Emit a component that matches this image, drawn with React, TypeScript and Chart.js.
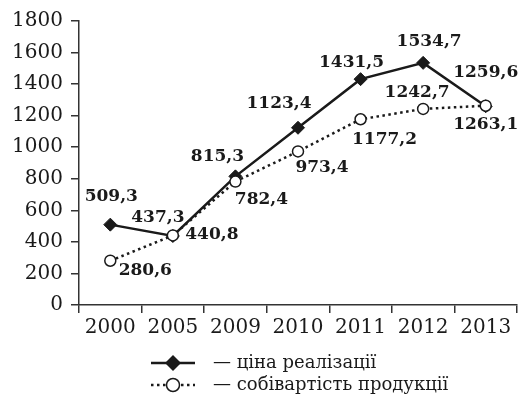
import React, { useEffect, useRef } from "react";
import { Chart, registerables } from "chart.js";

Chart.register(...registerables);

const years = ["2000", "2005", "2009", "2010", "2011", "2012", "2013"];
const priceValues = [509.3, 437.3, 815.3, 1123.4, 1431.5, 1534.7, 1259.6];
const costValues = [280.6, 440.8, 782.4, 973.4, 1177.2, 1242.7, 1263.1];
const seriesNames = ["— ціна реалізації", "— собівартість продукції"];
const yMin = 0;
const yMax = 1800;
const yStep = 200;

// label placement offsets (style, relative to point pixel)
const priceLabelOffsets = [[1, -28], [-15, -18], [-18, -20], [-19, -24], [-9, -17], [6, -21], [0, -34]];
const costLabelOffsets = [[35, 10], [39, -1], [26, 18], [24, 16], [24, 20], [-6, -16], [0, 19]];

const SERIF = "'DejaVu Serif', serif";
const INK = "#1a1a1a";

const fmt = (v: number) => v.toFixed(1).replace(".", ",");

const labelPlugin = {
  id: "valueLabels",
  afterDatasetsDraw(chart: any) {
    const ctx = chart.ctx;
    ctx.save();
    ctx.font = `bold 17px ${SERIF}`;
    ctx.fillStyle = INK;
    ctx.textAlign = "center";
    ctx.textBaseline = "middle";
    chart.data.datasets.forEach((ds: any, di: number) => {
      const meta = chart.getDatasetMeta(di);
      const offs = ds.labelOffsets as number[][];
      meta.data.forEach((pt: any, i: number) => {
        const [dx, dy] = offs[i];
        ctx.fillText(fmt(ds.data[i]), pt.x + dx, pt.y + dy);
      });
    });
    ctx.restore();
  },
};

const legendPlugin = {
  id: "customLegend",
  afterDraw(chart: any) {
    const ctx = chart.ctx;
    ctx.save();
    const x0 = 151, x1 = 195, xm = 173, tx = 213;
    const rows = [363, 385];
    // row 1: solid line + diamond
    ctx.strokeStyle = INK;
    ctx.lineWidth = 2.5;
    ctx.beginPath();
    ctx.moveTo(x0, rows[0]);
    ctx.lineTo(x1, rows[0]);
    ctx.stroke();
    ctx.fillStyle = INK;
    const r = 8;
    ctx.beginPath();
    ctx.moveTo(xm - r, rows[0]);
    ctx.lineTo(xm, rows[0] - r);
    ctx.lineTo(xm + r, rows[0]);
    ctx.lineTo(xm, rows[0] + r);
    ctx.closePath();
    ctx.fill();
    // row 2: dotted line + open circle
    ctx.setLineDash([2.5, 3.5]);
    ctx.beginPath();
    ctx.moveTo(x0, rows[1]);
    ctx.lineTo(x1, rows[1]);
    ctx.stroke();
    ctx.setLineDash([]);
    ctx.fillStyle = "#fff";
    ctx.lineWidth = 1.5;
    ctx.beginPath();
    ctx.arc(xm, rows[1], 6.5, 0, Math.PI * 2);
    ctx.fill();
    ctx.stroke();
    // texts
    ctx.fillStyle = INK;
    ctx.font = `18px ${SERIF}`;
    ctx.textAlign = "left";
    ctx.textBaseline = "middle";
    ctx.fillText(seriesNames[0], tx, rows[0]);
    ctx.fillText(seriesNames[1], tx, rows[1]);
    ctx.restore();
  },
};

export default function App() {
  const ref = useRef<HTMLCanvasElement>(null);
  useEffect(() => {
    if (!ref.current) return;
    const chart = new Chart(ref.current, {
      type: "line",
      data: {
        labels: years,
        datasets: [
          {
            label: seriesNames[0],
            data: priceValues,
            borderColor: INK,
            borderWidth: 2.5,
            pointStyle: "rectRot",
            pointRadius: 6.5,
            pointBackgroundColor: INK,
            pointBorderColor: INK,
            pointBorderWidth: 1,
            tension: 0,
            order: 1,
            labelOffsets: priceLabelOffsets,
          } as any,
          {
            label: seriesNames[1],
            data: costValues,
            borderColor: INK,
            borderWidth: 2.5,
            borderDash: [2.5, 3.5],
            pointStyle: "circle",
            pointRadius: 5.5,
            pointBackgroundColor: "#fff",
            pointBorderColor: INK,
            pointBorderWidth: 1.5,
            tension: 0,
            order: 0,
            labelOffsets: costLabelOffsets,
          } as any,
        ],
      },
      options: {
        animation: false,
        responsive: false,
        layout: { padding: { left: 0, right: 14, top: 21, bottom: 63 } },
        plugins: {
          legend: { display: false },
          tooltip: { enabled: false },
        },
        scales: {
          x: {
            type: "category",
            offset: true,
            grid: {
              offset: true,
              drawOnChartArea: false,
              drawTicks: true,
              tickLength: 8,
              color: "#333",
              lineWidth: 1.5,
            },
            border: { color: "#333", width: 1.5 },
            ticks: { font: { family: SERIF, size: 20 }, color: INK, padding: 3 },
            afterFit: (s: any) => {
              s.height = 35;
            },
          },
          y: {
            min: yMin,
            max: yMax,
            grid: {
              drawOnChartArea: false,
              drawTicks: true,
              tickLength: 8,
              color: "#333",
              lineWidth: 1.5,
            },
            border: { color: "#333", width: 1.5 },
            ticks: {
              stepSize: yStep,
              font: { family: SERIF, size: 20 },
              color: INK,
              padding: 8,
              callback: (v: any) => String(v),
            },
            afterFit: (s: any) => {
              s.width = 79;
            },
          },
        },
      },
      plugins: [labelPlugin, legendPlugin],
    });
    return () => chart.destroy();
  }, []);
  return (
    <div style={{ position: "fixed", left: 0, top: 0, width: 531, height: 403, background: "#fff" }}>
      <canvas ref={ref} width={531} height={403} />
    </div>
  );
}
